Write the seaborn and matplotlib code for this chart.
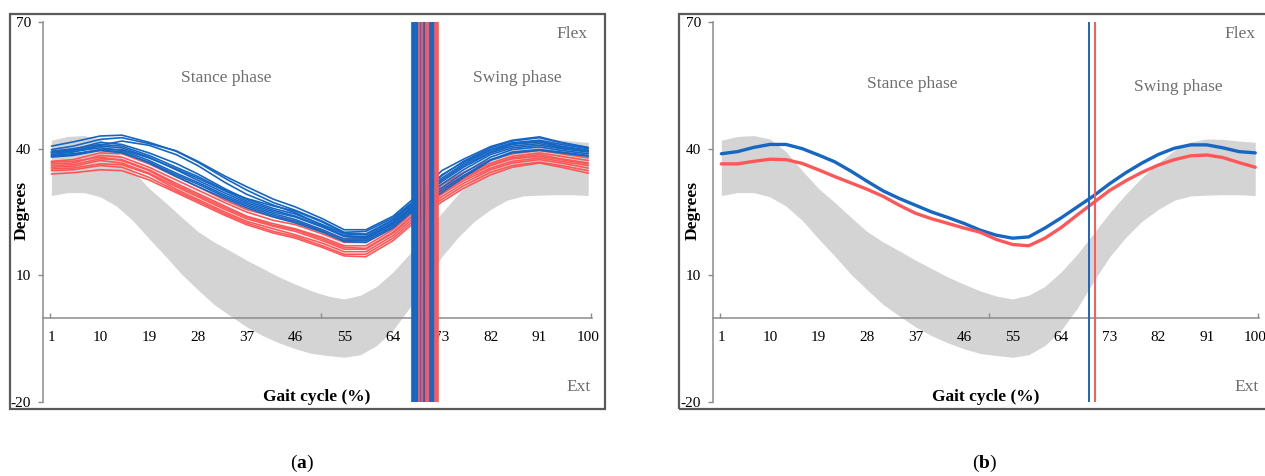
import matplotlib
matplotlib.use("Agg")
import matplotlib.pyplot as plt
from matplotlib.patches import Rectangle
import pandas as pd
import seaborn as sns

# ---------------------------------------------------------------- data
# gait-cycle positions (%) for the normative band and the mean curves
gait_fine = [1, 4, 7, 10, 13, 16, 19, 22, 25, 28, 31, 34, 37, 40, 43, 46, 49, 52, 55, 58, 61,
             64, 67, 70, 73, 76, 79, 82, 85, 88, 91, 94, 97, 100]
# gait-cycle positions (%) for the individual trials
gait_pct = [1, 5, 10, 14, 19, 24, 28, 33, 37, 42, 46, 51, 55, 59, 64, 68, 73, 77, 82, 86, 91, 95, 100]
x_ticks = [1, 10, 19, 28, 37, 46, 55, 64, 73, 82, 91, 100]
y_ticks = [70, 40, 10, -20]

norm_upper = [42.0, 42.9, 43.1, 42.3, 39.3, 34.8, 30.6, 27.3, 23.8, 20.4, 17.9, 15.8, 13.6, 11.6,
              9.6, 7.9, 6.3, 5.1, 4.4, 5.3, 7.4, 10.8, 15.0, 19.9, 24.8, 29.2, 33.2, 36.6, 39.6,
              41.6, 42.3, 42.2, 41.8, 41.5]
norm_lower = [28.9, 29.6, 29.6, 28.6, 26.4, 23.0, 18.7, 14.6, 10.3, 6.6, 3.1, 0.4, -2.2, -4.3,
              -6.0, -7.4, -8.5, -9.0, -9.4, -8.8, -6.6, -3.0, 2.2, 8.5, 14.4, 19.0, 22.8, 25.6,
              27.8, 28.8, 29.0, 29.1, 29.1, 28.9]

blue_trials = {
    "B0": [40.6, 41.6, 43.0, 43.2, 41.5, 39.4, 36.8, 33.0, 30.2, 27.2, 25.4, 22.8, 20.2, 20.4, 23.6, 27.8, 33.6, 37.0, 40.2, 41.8, 42.6, 41.4, 40.2],
    "B1": [39.8, 40.6, 42.2, 42.6, 41.2, 39.5, 37.0, 33.5, 31.0, 28.0, 26.2, 23.4, 20.8, 20.8, 24.0, 28.4, 34.8, 37.5, 40.5, 42.0, 42.8, 41.5, 40.3],
    "B2": [39.2, 39.8, 41.5, 41.0, 39.0, 36.5, 34.0, 30.5, 28.0, 25.8, 24.5, 22.0, 19.8, 19.6, 23.0, 27.4, 33.0, 36.4, 39.6, 41.2, 41.8, 40.6, 39.6],
    "B3": [38.6, 39.2, 40.6, 40.2, 38.0, 35.0, 32.5, 29.5, 27.2, 25.0, 23.8, 21.4, 19.2, 19.0, 22.4, 26.8, 32.2, 35.6, 39.0, 40.6, 41.2, 40.2, 39.4],
    "B4": [39.0, 39.4, 40.2, 39.6, 37.2, 34.2, 32.0, 29.0, 26.8, 24.6, 23.2, 20.8, 18.6, 18.6, 22.0, 26.2, 31.6, 35.0, 38.6, 40.2, 40.8, 40.0, 39.2],
    "B5": [38.2, 38.6, 39.8, 39.8, 37.8, 35.2, 33.0, 30.0, 27.6, 25.4, 24.0, 21.6, 19.4, 19.2, 22.6, 27.0, 30.8, 34.2, 38.0, 39.8, 40.4, 39.6, 38.8],
    "B6": [38.0, 38.4, 39.6, 39.3, 36.6, 33.4, 31.0, 28.2, 26.0, 23.8, 22.4, 20.2, 18.2, 18.2, 21.6, 25.8, 30.2, 33.6, 37.4, 39.2, 39.8, 39.2, 38.4],
    "B7": [39.4, 40.0, 41.0, 40.6, 38.4, 35.6, 33.4, 30.2, 28.2, 26.4, 25.2, 22.6, 20.0, 19.8, 23.2, 27.6, 33.8, 36.8, 39.8, 41.4, 42.0, 41.0, 40.0],
    "B8": [38.4, 38.8, 39.6, 39.0, 36.8, 33.8, 31.6, 28.6, 26.4, 24.2, 22.8, 20.4, 18.0, 17.8, 21.2, 25.6, 29.6, 33.2, 37.2, 39.0, 39.6, 39.0, 38.2],
    "B9": [39.0, 39.6, 40.8, 41.8, 40.8, 38.6, 36.0, 32.0, 29.2, 26.6, 24.8, 21.8, 19.2, 18.8, 22.2, 26.6, 32.6, 36.0, 39.2, 41.0, 41.6, 40.4, 39.6],
}
red_trials = {
    "R0": [37.0, 37.4, 39.0, 38.8, 36.4, 33.4, 31.0, 27.8, 25.6, 23.8, 22.8, 20.6, 18.6, 18.6, 22.2, 26.6, 31.4, 34.4, 37.4, 38.8, 39.6, 38.8, 37.8],
    "R1": [36.4, 36.6, 38.4, 38.0, 35.6, 32.6, 30.2, 27.2, 25.0, 23.0, 22.0, 19.8, 17.8, 17.8, 21.4, 25.8, 30.6, 33.6, 36.6, 38.2, 39.0, 38.2, 37.2],
    "R2": [36.0, 36.2, 37.6, 37.4, 35.0, 31.8, 29.4, 26.4, 24.0, 22.2, 21.0, 19.0, 17.0, 17.0, 20.8, 25.2, 30.0, 33.2, 36.2, 37.8, 38.6, 37.6, 36.6],
    "R3": [35.6, 35.8, 37.2, 36.6, 34.2, 31.0, 28.6, 25.6, 23.4, 21.6, 20.4, 18.2, 16.2, 16.2, 20.0, 24.4, 29.2, 32.4, 35.4, 37.0, 37.8, 37.0, 36.0],
    "R4": [35.2, 35.4, 36.4, 36.2, 34.0, 30.4, 28.0, 25.0, 22.8, 21.0, 19.6, 17.6, 15.6, 15.6, 19.4, 23.8, 28.6, 31.8, 35.0, 36.6, 37.4, 36.6, 35.4],
    "R5": [34.8, 35.0, 36.0, 35.6, 33.2, 30.0, 27.6, 24.6, 22.4, 20.4, 19.2, 17.0, 15.0, 15.0, 18.8, 23.2, 28.0, 31.2, 34.4, 36.0, 36.8, 36.0, 34.8],
    "R6": [34.0, 34.3, 35.0, 34.8, 32.6, 29.6, 27.2, 24.2, 22.0, 20.0, 18.8, 16.6, 14.6, 14.4, 18.2, 22.6, 27.4, 30.6, 33.8, 35.6, 36.6, 35.6, 34.2],
    "R7": [36.8, 37.0, 38.0, 37.2, 34.8, 31.4, 29.0, 26.0, 23.8, 21.8, 20.8, 18.6, 16.6, 16.4, 20.2, 24.6, 29.6, 32.8, 36.0, 37.6, 38.2, 37.4, 36.4],
}
blue_toe_off = [67.5, 67.7, 67.95, 68.2, 68.45, 69.1, 69.8, 70.9, 71.2, 71.5]
red_toe_off = [68.8, 69.4, 70.15, 70.45, 71.8, 72.1, 69.6, 70.6]

blue_mean = [38.8, 39.3, 40.3, 41.0, 41.0, 40.0, 38.5, 36.9, 34.7, 32.3, 30.0, 28.2, 26.6, 25.0,
             23.7, 22.3, 20.7, 19.5, 18.8, 19.1, 21.2, 23.6, 26.2, 28.8, 31.7, 34.3, 36.6, 38.6,
             40.1, 40.9, 40.9, 40.2, 39.3, 39.0]
red_mean = [36.4, 36.4, 37.0, 37.5, 37.4, 36.5, 35.0, 33.4, 31.9, 30.4, 28.7, 26.6, 24.7, 23.4,
            22.3, 21.2, 20.2, 18.5, 17.3, 17.0, 18.8, 21.3, 24.3, 27.2, 30.1, 32.4, 34.4, 36.1,
            37.4, 38.3, 38.5, 37.9, 36.7, 35.6]
mean_toe_off = {"blue": 69.2, "red": 70.3}

# ---------------------------------------------------------------- style
BLUE = "#1666c4"
RED = "#ff5757"
BAND = "#d4d4d4"
SPINE = "#8c8c8c"
NOTE = "#6e6e6e"
FRAME = "#5a5a5a"

sns.set_theme(style="white")
plt.rcParams["font.family"] = ["Liberation Serif", "DejaVu Serif"]
plt.rcParams["mathtext.fontset"] = "custom"
plt.rcParams["mathtext.rm"] = "Liberation Serif"
plt.rcParams["mathtext.bf"] = "Liberation Serif:bold"

W, H = 1265, 476
fig = plt.figure(figsize=(W / 100, H / 100), dpi=100)
fig.patch.set_facecolor("white")


def fx(px):
    return px / W


def fy(py):
    return 1 - py / H


def make_axes(left_px, right_px):
    ax = fig.add_axes([fx(left_px), fy(402), (right_px - left_px) / W, 380 / H])
    ax.set_facecolor("none")
    ax.set_axisbelow(False)
    ax.set_xlim(-0.55, 100.7)
    ax.set_ylim(-20, 70)
    for side in ("top", "right"):
        ax.spines[side].set_visible(False)
    ax.spines["left"].set_color(SPINE)
    ax.spines["left"].set_linewidth(1.1)
    ax.spines["bottom"].set_position(("data", 0))
    ax.spines["bottom"].set_color(SPINE)
    ax.spines["bottom"].set_linewidth(1.1)
    ax.set_yticks(y_ticks)
    ax.set_yticklabels([str(v) for v in y_ticks], fontsize=11, color="black")
    ax.tick_params(axis="y", direction="out", length=3.5, width=1, color=SPINE, pad=5, left=True)
    ax.set_xticks(x_ticks)
    ax.set_xticklabels([str(v) for v in x_ticks], fontsize=11, color="black")
    ax.tick_params(axis="x", length=0, pad=10, bottom=True)
    ax.set_xticks([0.7, 50.7, 100.5], minor=True)
    ax.tick_params(axis="x", which="minor", direction="in", length=3.5, width=1, color=SPINE, bottom=True)
    ax.fill_between(gait_fine, norm_lower, norm_upper, color=BAND, lw=0, zorder=1)
    return ax


def trials_frame(trials, group):
    rows = []
    for name, vals in trials.items():
        for x, v in zip(gait_pct, vals):
            rows.append({"x": x, "deg": v, "trial": name, "group": group})
    return pd.DataFrame(rows)


# ---------------------------------------------------------------- panel (a): individual trials
ax_a = make_axes(43, 592)
df_red = trials_frame(red_trials, "red")
df_blue = trials_frame(blue_trials, "blue")
sns.lineplot(data=df_red, x="x", y="deg", units="trial", estimator=None,
             color=RED, lw=1.2, ax=ax_a, legend=False, zorder=2)
sns.lineplot(data=df_blue, x="x", y="deg", units="trial", estimator=None,
             color=BLUE, lw=1.2, ax=ax_a, legend=False, zorder=2)
toe = sorted([(v, BLUE) for v in blue_toe_off] + [(v, RED) for v in red_toe_off])
for v, c in toe:
    ax_a.axvline(v, ymin=0, ymax=1, color=c, lw=1.9, zorder=3)
ax_a.set_xlabel("")
ax_a.set_ylabel("")

# ---------------------------------------------------------------- panel (b): mean curves
ax_b = make_axes(713, 1259)
df_b = pd.DataFrame({"x": gait_fine * 2,
                     "deg": blue_mean + red_mean,
                     "group": ["blue"] * len(gait_fine) + ["red"] * len(gait_fine)})
sns.lineplot(data=df_b, x="x", y="deg", hue="group", palette={"blue": BLUE, "red": RED},
             estimator=None, lw=2.4, ax=ax_b, legend=False, zorder=2)
ax_b.axvline(mean_toe_off["blue"], color=BLUE, lw=1.4, zorder=3)
ax_b.axvline(mean_toe_off["red"], color=RED, lw=1.4, zorder=3)
ax_b.set_xlabel("")
ax_b.set_ylabel("")

# ---------------------------------------------------------------- labels and frames
panel_text = [
    dict(stance=(226, 78), swing=(517, 78), flex=(572, 34), ext=(579, 387),
         deg=(22, 211), gait=(317, 397), cap=(302, 463), letter="a"),
    dict(stance=(912, 84), swing=(1178, 87), flex=(1240, 34), ext=(1247, 387),
         deg=(693, 211), gait=(986, 397), cap=(985, 463), letter="b"),
]
for t in panel_text:
    for key, label in (("stance", "Stance phase"), ("swing", "Swing phase"),
                       ("flex", "Flex"), ("ext", "Ext")):
        fig.text(fx(t[key][0]), fy(t[key][1]), label, fontsize=12.5,
                 color=NOTE, ha="center", va="center")
    fig.text(fx(t["deg"][0]), fy(t["deg"][1]), "Degrees", fontsize=12.5, fontweight="bold",
             rotation=90, ha="center", va="center", color="black")
    fig.text(fx(t["gait"][0]), fy(t["gait"][1]), "Gait cycle (%)", fontsize=12.5,
             fontweight="bold", ha="center", va="center", color="black")
    fig.text(fx(t["cap"][0]), fy(t["cap"][1]), r"($\mathbf{%s}$)" % t["letter"], fontsize=14,
             ha="center", va="center", color="black")

for left, right in ((10, 605), (679, 1272)):
    fig.patches.append(Rectangle((fx(left), fy(409)), (right - left) / W, (409 - 14) / H,
                                 transform=fig.transFigure, fill=False, edgecolor=FRAME,
                                 lw=1.6, zorder=0))

fig.savefig("out.png", dpi=100, facecolor="white")
